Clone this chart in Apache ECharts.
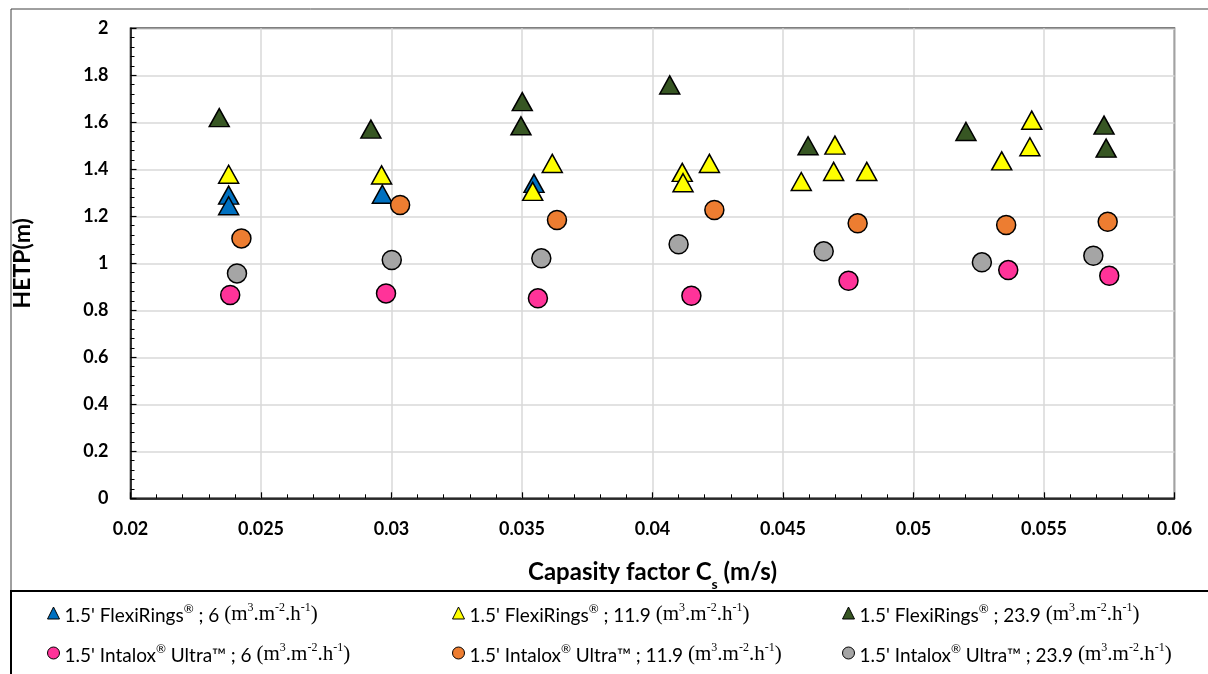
<!DOCTYPE html>
<html>
<head>
<meta charset="utf-8">
<script src="https://cdn.jsdelivr.net/npm/echarts@6/dist/echarts.min.js"></script>
<style>
  html, body { margin: 0; padding: 0; background: #fff; }
  #chart { width: 1208px; height: 674px; }
</style>
</head>
<body>
<div id="chart"></div>
<script>
// HETP vs capacity factor
const flexi6 = [[0.02376, 1.29], [0.02376, 1.245], [0.02965, 1.294], [0.03546, 1.34]];
const flexi119 = [
  [0.02376, 1.379], [0.02962, 1.376], [0.03541, 1.306], [0.03616, 1.425],
  [0.04114, 1.387], [0.04117, 1.343], [0.04218, 1.425], [0.04570, 1.348],
  [0.04694, 1.391], [0.04699, 1.503], [0.04821, 1.391], [0.05338, 1.436],
  [0.05446, 1.496], [0.05453, 1.609],
];
const flexi239 = [
  [0.02340, 1.620], [0.02921, 1.571], [0.03501, 1.688], [0.03496, 1.585],
  [0.04066, 1.759], [0.04596, 1.500], [0.05201, 1.561], [0.05730, 1.588],
  [0.05738, 1.490],
];
const intalox6 = [
  [0.02382, 0.865], [0.02979, 0.872], [0.03561, 0.851], [0.04149, 0.862],
  [0.04751, 0.926], [0.05363, 0.971], [0.05750, 0.947],
];
const intalox119 = [
  [0.02425, 1.106], [0.03033, 1.248], [0.03634, 1.184], [0.04237, 1.227],
  [0.04786, 1.170], [0.05355, 1.163], [0.05744, 1.177],
];
const intalox239 = [
  [0.02408, 0.957], [0.03001, 1.014], [0.03574, 1.021], [0.04100, 1.081],
  [0.04656, 1.051], [0.05262, 1.004], [0.05689, 1.032],
];

const NAMES = [
  "1.5' FlexiRings® ; 6",
  "1.5' FlexiRings® ; 11.9",
  "1.5' FlexiRings® ; 23.9",
  "1.5' Intalox® Ultra™ ; 6",
  "1.5' Intalox® Ultra™ ; 11.9",
  "1.5' Intalox® Ultra™ ; 23.9",
];
const DATA = [flexi6, flexi119, flexi239, intalox6, intalox119, intalox239];
const COLORS = ['#0070C0', '#FFFF00', '#375623', '#FF3399', '#ED7D31', '#A5A5A5'];
const SYMBOLS = ['triangle', 'triangle', 'triangle', 'circle', 'circle', 'circle'];

const SANS = "Lato, 'Open Sans', sans-serif";
const SERIF = "'Liberation Serif', 'DejaVu Serif', serif";

const chart = echarts.init(document.getElementById('chart'));

// legend: 3 columns x 2 rows, one legend per item
const legendPos = [[42, 596], [447, 596], [837, 596], [42, 636], [447, 636], [837, 636]];
const legends = NAMES.map((n, i) => ({
  data: [n],
  left: legendPos[i][0],
  top: legendPos[i][1],
  itemWidth: 12,
  itemHeight: 12,
  itemGap: 0,
  selectedMode: false,
  itemStyle: { borderColor: '#000', borderWidth: 1 },
  formatter: name => `{t|${name.replace(/®/g, '}{r|®}{t|')} }{u|(m}{s|3}{u|.m}{s|-2}{u|.h}{s|-1}{u|)}`,
  textStyle: {
    rich: {
      t: { fontFamily: SANS, fontSize: 19, color: '#000', lineHeight: 24, verticalAlign: 'bottom' },
      r: { fontFamily: SANS, fontSize: 12, color: '#000', lineHeight: 24, verticalAlign: 'top', padding: [2, 0, 0, 0] },
      u: { fontFamily: SERIF, fontSize: 21, color: '#000', lineHeight: 24, verticalAlign: 'bottom' },
      s: { fontFamily: SERIF, fontSize: 12, color: '#000', lineHeight: 24, verticalAlign: 'top', padding: [1, 0, 0, 0] },
    },
  },
}));

chart.setOption({
  animation: false,
  graphic: [
    { type: 'rect', shape: { x: 11, y: 9, width: 1300, height: 582 }, style: { fill: 'none', stroke: '#404040', lineWidth: 1 }, silent: true },
    { type: 'rect', shape: { x: 11, y: 591, width: 1300, height: 100 }, style: { fill: 'none', stroke: '#000', lineWidth: 2 }, silent: true },
  ],
  grid: { left: 130.5, right: 33.5, top: 28.3, bottom: 175.7, show: true, borderColor: '#000', borderWidth: 1.5 },
  legend: legends,
  xAxis: {
    type: 'value', min: 0.02, max: 0.06, interval: 0.005,
    name: 'Capasity factor C{sub|s} (m/s)',
    nameLocation: 'middle', nameGap: 62,
    nameTextStyle: {
      fontFamily: SANS, fontSize: 24, fontWeight: 'bold', color: '#000',
      rich: { sub: { fontFamily: SANS, fontSize: 14, fontWeight: 'bold', color: '#000', verticalAlign: 'bottom', padding: [0, 0, -7, 0] } },
    },
    axisLine: { lineStyle: { color: '#000', width: 1.5 } },
    axisTick: { inside: true, length: 6, lineStyle: { color: '#000', width: 1.2 } },
    minorTick: { show: true, splitNumber: 5, length: 4, lineStyle: { color: '#000', width: 1 } },
    axisLabel: { fontFamily: SANS, fontSize: 18, fontWeight: 'bold', color: '#000', margin: 22, formatter: v => String(+v.toFixed(3)) },
    splitLine: { show: true, lineStyle: { color: '#D9D9D9', width: 1.5 } },
  },
  yAxis: {
    type: 'value', min: 0, max: 2, interval: 0.2,
    name: 'HETP(m)', nameLocation: 'middle', nameGap: 96, nameRotate: 90,
    nameTextStyle: { fontFamily: SANS, fontSize: 23, fontWeight: 'bold', color: '#000' },
    axisLine: { show: true, lineStyle: { color: '#000', width: 1.5 } },
    axisTick: { show: true, inside: true, length: 6, lineStyle: { color: '#000', width: 1.2 } },
    minorTick: { show: true, splitNumber: 5, length: 4, lineStyle: { color: '#000', width: 1 } },
    axisLabel: { fontFamily: SANS, fontSize: 18, fontWeight: 'bold', color: '#000', margin: 22, formatter: v => String(+v.toFixed(1)) },
    splitLine: { show: true, lineStyle: { color: '#D9D9D9', width: 1.5 } },
  },
  series: NAMES.map((n, i) => ({
    name: n,
    type: 'scatter',
    data: DATA[i],
    symbol: SYMBOLS[i],
    symbolSize: SYMBOLS[i] === 'triangle' ? [20, 18] : 19,
    itemStyle: { color: COLORS[i], borderColor: '#000', borderWidth: 1.5, opacity: 1 },
  })),
});
</script>
</body>
</html>
